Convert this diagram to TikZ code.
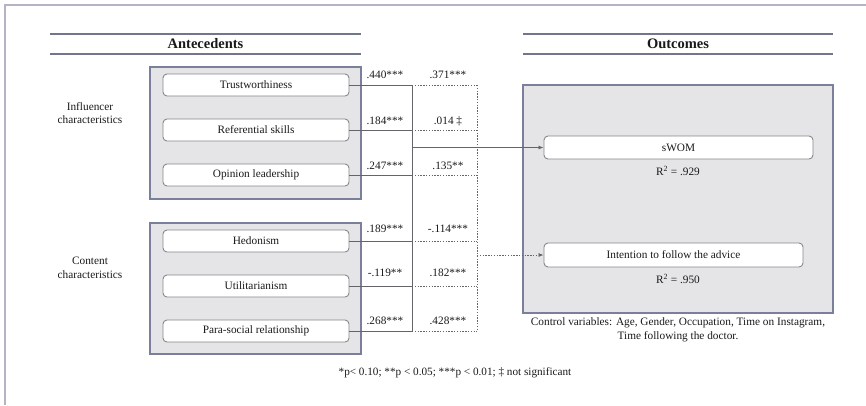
\documentclass[tikz,border=0pt]{standalone}
\usepackage{fontspec}
\setmainfont{Liberation Serif}
\usetikzlibrary{arrows.meta}
\definecolor{framec}{RGB}{180,180,198}
\definecolor{rulec}{RGB}{112,118,140}
\definecolor{groupfill}{RGB}{229,229,231}
\definecolor{groupdraw}{RGB}{122,128,155}
\definecolor{boxdraw}{RGB}{135,135,140}
\definecolor{linkc}{RGB}{100,100,105}
\definecolor{textc}{RGB}{25,25,25}
\tikzset{
  every node/.style={text=textc, font=\fontsize{11.3}{13}\selectfont},
  headrule/.style={draw=rulec, line width=1.3pt},
  headtext/.style={font=\bfseries\fontsize{14.5}{16}\selectfont},
  groupbox/.style={draw=groupdraw, fill=groupfill, line width=1.4pt, inner sep=0pt},
  varbox/.style={draw=boxdraw, fill=white, line width=0.9pt, rounded corners=4pt,
    minimum height=22pt, inner sep=0pt},
  sidelabel/.style={align=center, font=\fontsize{11.3}{13.5}\selectfont},
  coef/.style={inner sep=0pt},
  solidlink/.style={draw=linkc, line width=0.8pt},
  dottedlink/.style={draw=linkc, line width=0.8pt, dash pattern=on 1.4pt off 1.4pt},
  tip/.style={-{Latex[length=5pt,width=4pt]}}
}
\begin{document}
\begin{tikzpicture}[x=1pt, y=-1pt]
\useasboundingbox (0,0) rectangle (866,405);
% page frame (top and left edges)
\draw[framec, line width=1.6pt] (866,5) -- (5,5) -- (5,405);

% section headings
\draw[headrule] (50,34) -- (361,34);
\draw[headrule] (50,54) -- (361,54);
\node[headtext] (antec) at (205.5,44) {Antecedents};
\draw[headrule] (523,34) -- (833,34);
\draw[headrule] (523,54) -- (833,54);
\node[headtext] (outc) at (678,44) {Outcomes};

% group panels
\node[groupbox, minimum width=211pt, minimum height=132pt] (infl) at (255.5,133) {};
\node[groupbox, minimum width=211pt, minimum height=131pt] (cont) at (255.5,288.5) {};
\node[groupbox, minimum width=310pt, minimum height=228pt] (outbox) at (678,199) {};

% side labels
\node[sidelabel] (infllab) at (90,113) {Influencer\\characteristics};
\node[sidelabel] (contlab) at (90,268) {Content\\characteristics};

% antecedent variables
\node[varbox, minimum width=186pt] (trust) at (256,85) {Trustworthiness};
\node[varbox, minimum width=186pt] (refer) at (256,130) {Referential skills};
\node[varbox, minimum width=186pt] (opin) at (256,175) {Opinion leadership};
\node[varbox, minimum width=186pt] (hedon) at (256,241) {Hedonism};
\node[varbox, minimum width=186pt] (util) at (256,286) {Utilitarianism};
\node[varbox, minimum width=186pt] (para) at (256,331) {Para-social relationship};

% outcome variables
\node[varbox, minimum width=269pt, minimum height=23pt] (swom) at (678.5,147.5) {sWOM};
\node[coef] (r1) at (678,171) {R\textsuperscript{2} = .929};
\node[varbox, minimum width=259pt, minimum height=24pt] (intent) at (673.5,255) {Intention to follow the advice};
\node[coef] (r2) at (678,279) {R\textsuperscript{2} = .950};

% control variables
\node[align=center, font=\fontsize{11.3}{14}\selectfont] (ctrl) at (678,330)
  {Control variables: Age, Gender, Occupation, Time on Instagram,\\Time following the doctor.};

% junction points of the link paths
\coordinate (sj) at (412,0);
\coordinate (dj) at (477,0);
\coordinate (sjtop) at (412,85);
\coordinate (sjbot) at (412,331);
\coordinate (djtop) at (477,85);
\coordinate (djbot) at (477,331);
\coordinate (sout) at (412,147.5);
\coordinate (dout) at (477,255);

% solid links to sWOM
\foreach \v in {trust,refer,opin,hedon,util,para}
  \draw[solidlink] (\v.east) -- (\v.east -| sj);
\draw[solidlink] (sjtop) -- (sjbot);
\draw[solidlink, tip] (sout) -- (swom.west);

% dotted links to intention
\foreach \v in {trust,refer,opin,hedon,util,para}
  \draw[dottedlink] (\v.east -| sj) -- (\v.east -| dj);
\draw[dottedlink] (djtop) -- (djbot);
\draw[dottedlink, tip] (dout) -- (intent.west);

% path coefficients
\node[coef] (c1a) at (385,75) {.440***};
\node[coef] (c1b) at (448,75) {.371***};
\node[coef] (c2a) at (385,121) {.184***};
\node[coef] (c2b) at (448,121) {.014 ‡};
\node[coef] (c3a) at (385,166) {.247***};
\node[coef] (c3b) at (448,166) {.135**};
\node[coef] (c4a) at (385,229) {.189***};
\node[coef] (c4b) at (448,229) {-.114***};
\node[coef] (c5a) at (385,273) {-.119**};
\node[coef] (c5b) at (448,273) {.182***};
\node[coef] (c6a) at (385,321) {.268***};
\node[coef] (c6b) at (448,321) {.428***};

% significance note
\node[font=\fontsize{11.2}{12}\selectfont] (note) at (455,373)
  {*p< 0.10; **p < 0.05; ***p < 0.01; ‡ not significant};
\end{tikzpicture}
\end{document}
